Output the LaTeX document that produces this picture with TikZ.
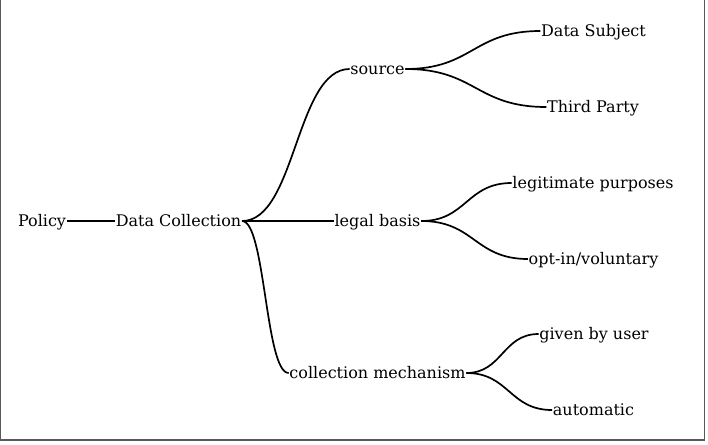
\documentclass[tikz,border=0pt]{standalone}
\usepackage{fontspec}
\setmainfont{DejaVu Serif}
\usetikzlibrary{calc}
\tikzset{
  lbl/.style={inner sep=0.6pt, font=\fontsize{16}{18}\selectfont, text height=11.7pt, text depth=0pt},
  edge/.style={line width=1.7pt, black},
  frame/.style={line width=1.4pt, draw=black!65}
}
\newcommand\treelink[2]{\draw[edge] let \p1=(#1.east), \p2=(#2.west) in (\p1) .. controls ({0.5*\x1+0.5*\x2},\y1) and ({0.5*\x1+0.5*\x2},\y2) .. (\p2);}
\begin{document}
\begin{tikzpicture}[x=1pt,y=-1pt]
\useasboundingbox (0,0) rectangle (708,444);
\draw[frame] (0.7,0) -- (0.7,440) -- (704.3,440) -- (704.3,0);
\node[lbl] (pol) at (42,221) {Policy};
\node[lbl] (dc) at (178.5,221) {Data Collection};
\node[lbl] (src) at (377.5,69) {source};
\node[lbl] (lb) at (377.5,221) {legal basis};
\node[lbl] (cm) at (377.5,373) {collection mechanism};
\node[lbl] (ds) at (593.5,31) {Data Subject};
\node[lbl] (tp) at (593,107) {Third Party};
\node[lbl] (lp) at (593,183) {legitimate purposes};
\node[lbl] (ov) at (593.5,259) {opt-in/voluntary};
\node[lbl] (gu) at (594,334) {given by user};
\node[lbl] (au) at (593.5,410) {automatic};
\draw[edge] (pol.east) -- (dc.west);
\treelink{dc}{src}
\treelink{dc}{lb}
\treelink{dc}{cm}
\treelink{src}{ds}
\treelink{src}{tp}
\treelink{lb}{lp}
\treelink{lb}{ov}
\treelink{cm}{gu}
\treelink{cm}{au}
\end{tikzpicture}
\end{document}
